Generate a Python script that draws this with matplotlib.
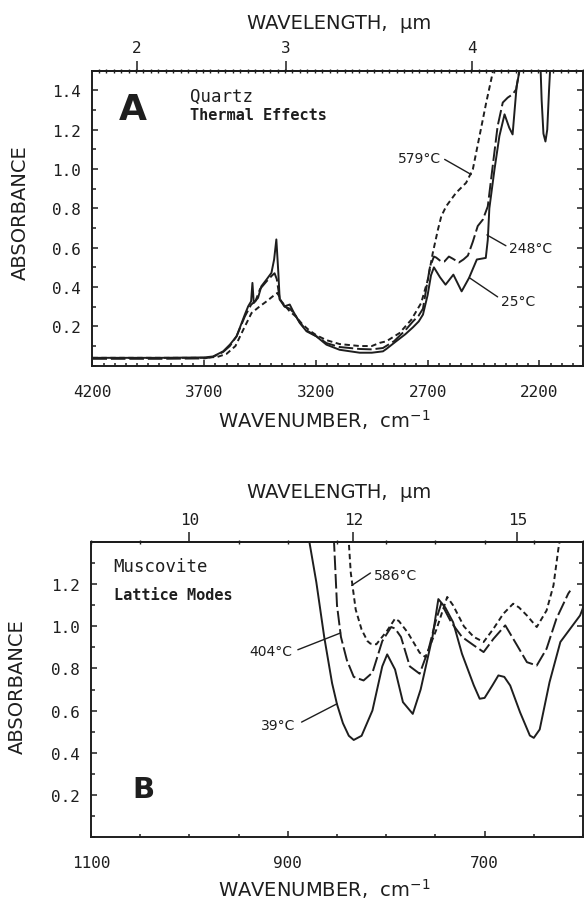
import numpy as np
import matplotlib
matplotlib.use("Agg")
import matplotlib.pyplot as plt
from matplotlib.ticker import MultipleLocator, FixedLocator

# ---------------- Quartz, thermal effects (wavenumber cm-1, absorbance) ----------------
q25_wn = [4200, 3900, 3700, 3660, 3615, 3585, 3555, 3518, 3503, 3490, 3484, 3478, 3459,
          3444, 3421, 3399, 3387, 3377, 3368, 3362, 3340, 3317, 3302, 3272, 3242, 3198,
          3153, 3094, 3004, 2950, 2900, 2885, 2840, 2800, 2766, 2740, 2721, 2700, 2685,
          2672, 2645, 2620, 2585, 2548, 2515, 2480, 2440, 2431, 2424, 2401, 2379, 2356,
          2335, 2320, 2302, 2289, 2280, 2200, 2196, 2190, 2182, 2173, 2165, 2157, 2150,
          2140, 2000]
q25_abs = [0.040, 0.040, 0.042, 0.047, 0.073, 0.107, 0.149, 0.260, 0.302, 0.327, 0.421, 0.319, 0.345,
           0.404, 0.438, 0.472, 0.540, 0.642, 0.470, 0.336, 0.302, 0.311, 0.277, 0.217, 0.175, 0.149,
           0.107, 0.081, 0.066, 0.066, 0.073, 0.085, 0.125, 0.160, 0.195, 0.225, 0.260, 0.360, 0.460,
           0.500, 0.450, 0.412, 0.463, 0.378, 0.446, 0.540, 0.548, 0.640, 0.800, 0.998, 1.168, 1.278,
           1.210, 1.176, 1.420, 1.500, 1.700, 1.700, 1.550, 1.350, 1.180, 1.140, 1.200, 1.400, 1.550,
           1.700, 1.700]

q248_wn = [4200, 3900, 3700, 3660, 3615, 3585, 3555, 3518, 3490, 3470, 3450, 3420, 3395,
           3385, 3375, 3362, 3340, 3317, 3300, 3272, 3242, 3198, 3153, 3094, 3004, 2950,
           2900, 2850, 2800, 2766, 2740, 2721, 2705, 2690, 2672, 2662, 2640, 2625, 2605,
           2589, 2560, 2540, 2520, 2498, 2476, 2453, 2431, 2409, 2387, 2364, 2342, 2320,
           2304, 2290, 2280, 2000]
q248_abs = [0.035, 0.035, 0.037, 0.045, 0.070, 0.100, 0.150, 0.250, 0.310, 0.330, 0.390, 0.430, 0.460,
            0.470, 0.440, 0.340, 0.300, 0.290, 0.270, 0.220, 0.180, 0.150, 0.115, 0.095, 0.085, 0.083,
            0.090, 0.125, 0.180, 0.225, 0.255, 0.290, 0.400, 0.500, 0.555, 0.550, 0.530, 0.530, 0.555,
            0.545, 0.525, 0.540, 0.560, 0.630, 0.710, 0.743, 0.810, 1.015, 1.218, 1.338, 1.363, 1.380,
            1.405, 1.500, 1.700, 1.700]

q579_wn = [4200, 3900, 3700, 3640, 3600, 3560, 3525, 3488, 3451, 3421, 3384, 3372, 3354,
           3320, 3290, 3260, 3230, 3198, 3153, 3094, 3004, 2950, 2915, 2885, 2826, 2773,
           2729, 2699, 2677, 2654, 2639, 2617, 2573, 2528, 2498, 2468, 2438, 2409, 2400,
           2000]
q579_abs = [0.040, 0.040, 0.040, 0.045, 0.060, 0.100, 0.183, 0.268, 0.302, 0.327, 0.361, 0.370, 0.327,
            0.280, 0.250, 0.210, 0.180, 0.155, 0.130, 0.110, 0.100, 0.100, 0.116, 0.124, 0.166, 0.234,
            0.319, 0.438, 0.574, 0.692, 0.760, 0.811, 0.879, 0.930, 0.998, 1.168, 1.338, 1.490, 1.700,
            1.700]

# ---------------- Muscovite, lattice modes ----------------
m39_wn = [890, 878, 871, 863, 855, 850, 844, 838, 833, 825, 814, 804, 799, 791, 783, 773,
          765, 753, 747, 740, 732, 723, 711, 705, 700, 692, 686, 680, 674, 664, 654, 650,
          644, 634, 623, 613, 603, 599]
m39_abs = [1.60, 1.40, 1.21, 0.95, 0.73, 0.63, 0.54, 0.48, 0.46, 0.48, 0.60, 0.81, 0.867, 0.795, 0.64, 0.584,
           0.70, 0.95, 1.13, 1.09, 1.02, 0.87, 0.72, 0.656, 0.66, 0.72, 0.767, 0.76, 0.719, 0.592, 0.481, 0.47,
           0.51, 0.735, 0.926, 0.989, 1.052, 1.10]

m404_wn = [856, 853, 850, 846, 840, 833, 823, 814, 804, 795, 791, 785, 776, 766, 757, 750,
           744, 734, 723, 711, 701, 691, 679, 667, 657, 647, 637, 627, 615, 613]
m404_abs = [1.60, 1.40, 1.10, 0.95, 0.84, 0.76, 0.743, 0.78, 0.93, 0.997, 0.99, 0.95, 0.81, 0.775, 0.89, 1.02,
            1.11, 1.02, 0.95, 0.91, 0.878, 0.941, 1.005, 0.91, 0.83, 0.814, 0.894, 1.037, 1.156, 1.17]

m586_wn = [840, 838, 836, 831, 825, 819, 816, 810, 799, 791, 787, 778, 766, 760, 749, 738,
           732, 721, 711, 701, 691, 681, 671, 665, 657, 647, 637, 630, 625, 622]
m586_abs = [1.60, 1.40, 1.255, 1.08, 0.985, 0.93, 0.918, 0.915, 0.98, 1.037, 1.025, 0.97, 0.875, 0.854, 0.985, 1.14,
            1.10, 1.00, 0.95, 0.926, 0.989, 1.06, 1.108, 1.09, 1.052, 0.997, 1.076, 1.195, 1.37, 1.45]

# Axis ticks
a_xticks = [4200, 3700, 3200, 2700, 2200]
a_yticks = [0.2, 0.4, 0.6, 0.8, 1.0, 1.2, 1.4]
a_top_ticks = [2.5, 3, 4]
a_top_labels = ["2", "3", "4"]
b_xticks = [1100, 900, 700]
b_yticks = [0.2, 0.4, 0.6, 0.8, 1.0, 1.2]
b_top_ticks = [10, 12, 15]
b_top_labels = ["10", "12", "15"]

INK = "#1e1e1e"
MONO = "DejaVu Sans Mono"
SANS = "DejaVu Sans"
LW = 1.4
SOLID = "-"
LONG = (0, (7.5, 2.0))
SHORT = (0, (2.8, 1.8))


def to_um(x):
    x = np.asarray(x, dtype=float)
    with np.errstate(divide="ignore", invalid="ignore"):
        return 1e4 / x


fig = plt.figure(figsize=(5.84, 9.04), dpi=100)
W, H = 584.0, 904.0


def add_axes_px(x0, x1, top, bottom):
    return fig.add_axes([x0 / W, 1 - bottom / H, (x1 - x0) / W, (bottom - top) / H])


def style_axes(ax, xlim, ylim, xticks, yticks, top_ticks, top_labels, top_minor_wn):
    ax.set_xlim(*xlim)
    ax.set_ylim(*ylim)
    for sp in ax.spines.values():
        sp.set_linewidth(1.4)
        sp.set_color(INK)
    ax.set_xticks(xticks, labels=[str(t) for t in xticks])
    ax.set_yticks(yticks, labels=[f"{t:.1f}" for t in yticks])
    ax.xaxis.set_minor_locator(MultipleLocator(50))
    ax.yaxis.set_minor_locator(MultipleLocator(0.1))
    ax.tick_params(axis="both", which="both", direction="in", colors=INK, width=1.1,
                   top=False, right=True, labelsize=11.5)
    ax.tick_params(axis="x", which="major", length=4.5, pad=13)
    ax.tick_params(axis="x", which="minor", length=2.5)
    ax.tick_params(axis="y", which="major", length=4.5, pad=8)
    ax.tick_params(axis="y", which="minor", length=3.0)
    for lab in ax.get_xticklabels() + ax.get_yticklabels():
        lab.set_fontfamily(MONO)

    sec = ax.secondary_xaxis("top", functions=(to_um, to_um))
    sec.set_xticks(top_ticks, labels=top_labels)
    sec.xaxis.set_minor_locator(FixedLocator(to_um(top_minor_wn)))
    sec.tick_params(axis="x", which="major", direction="out", length=7, width=1.1,
                    pad=4, colors=INK, labelsize=11.5)
    sec.tick_params(axis="x", which="minor", direction="inout", length=3, width=1.0, colors=INK)
    sec.spines["top"].set_linewidth(1.4)
    for lab in sec.get_xticklabels():
        lab.set_fontfamily(MONO)
    return sec


def leader(ax, start, end):
    ax.annotate("", xy=end, xytext=start,
                arrowprops=dict(arrowstyle="-", lw=1.0, color=INK, shrinkA=0, shrinkB=0))


# ======================= Panel A: Quartz =======================
axA = add_axes_px(92.4, 583.0, 71.7, 366.7)
style_axes(axA, (4200, 2005), (0, 1.5), a_xticks, a_yticks, a_top_ticks, a_top_labels,
           np.arange(2005, 4201, 100 / 3))

axA.plot(q25_wn, q25_abs, color=INK, lw=LW, ls=SOLID)
axA.plot(q248_wn, q248_abs, color=INK, lw=LW, ls=LONG)
axA.plot(q579_wn, q579_abs, color=INK, lw=LW, ls=SHORT)

axA.set_xlabel(r"WAVENUMBER,  cm$^{-1}$", fontsize=14, family=SANS, color=INK, va="baseline")
axA.xaxis.set_label_coords(0.472, -0.208)
axA.set_ylabel("ABSORBANCE", fontsize=14, family=SANS, color=INK, va="center")
axA.yaxis.set_label_coords(-0.1466, 0.521)
axA.text(0.503, 1.165, "WAVELENGTH,  \u03bcm", transform=axA.transAxes, fontsize=14,
         family=SANS, color=INK, ha="center", va="center")

axA.text(0.0834, 0.870, "A", transform=axA.transAxes, fontsize=26, fontweight="bold",
         family=SANS, color=INK, ha="center", va="center")
axA.text(0.199, 0.915, "Quartz", transform=axA.transAxes, fontsize=12.5,
         family=MONO, color=INK, ha="left", va="center")
axA.text(0.199, 0.853, "Thermal Effects", transform=axA.transAxes, fontsize=11,
         family=MONO, fontweight="bold", color=INK, ha="left", va="center")

axA.text(2639, 1.058, "579\u00b0C", fontsize=10, family=SANS, color=INK, ha="right", va="center")
leader(axA, (2624, 1.049), (2505, 0.972))
axA.text(2337, 0.599, "248\u00b0C", fontsize=10, family=SANS, color=INK, ha="left", va="center")
leader(axA, (2435, 0.665), (2350, 0.610))
axA.text(2371, 0.331, "25\u00b0C", fontsize=10, family=SANS, color=INK, ha="left", va="center")
leader(axA, (2513, 0.447), (2387, 0.350))

# ======================= Panel B: Muscovite =======================
axB = add_axes_px(91.0, 583.0, 543.3, 837.7)
style_axes(axB, (1100, 600), (0, 1.4), b_xticks, b_yticks, b_top_ticks, b_top_labels,
           np.arange(600, 1101, 50))

axB.plot(m39_wn, m39_abs, color=INK, lw=LW, ls=SOLID)
axB.plot(m404_wn, m404_abs, color=INK, lw=LW, ls=LONG)
axB.plot(m586_wn, m586_abs, color=INK, lw=LW, ls=SHORT)

axB.set_xlabel(r"WAVENUMBER,  cm$^{-1}$", fontsize=14, family=SANS, color=INK, va="baseline")
axB.xaxis.set_label_coords(0.474, -0.201)
axB.set_ylabel("ABSORBANCE", fontsize=14, family=SANS, color=INK, va="center")
axB.yaxis.set_label_coords(-0.149, 0.513)
axB.text(0.504, 1.171, "WAVELENGTH,  \u03bcm", transform=axB.transAxes, fontsize=14,
         family=SANS, color=INK, ha="center", va="center")

axB.text(0.106, 0.162, "B", transform=axB.transAxes, fontsize=21, fontweight="bold",
         family=SANS, color=INK, ha="center", va="center")
axB.text(0.046, 0.918, "Muscovite", transform=axB.transAxes, fontsize=12.5,
         family=MONO, color=INK, ha="left", va="center")
axB.text(0.046, 0.822, "Lattice Modes", transform=axB.transAxes, fontsize=11,
         family=MONO, fontweight="bold", color=INK, ha="left", va="center")

axB.text(812, 1.243, "586\u00b0C", fontsize=10, family=SANS, color=INK, ha="left", va="center")
leader(axB, (835, 1.195), (816, 1.254))
axB.text(895.3, 0.881, "404\u00b0C", fontsize=10, family=SANS, color=INK, ha="right", va="center")
leader(axB, (846.3, 0.969), (889.8, 0.889))
axB.text(891.9, 0.529, "39\u00b0C", fontsize=10, family=SANS, color=INK, ha="right", va="center")
leader(axB, (850, 0.632), (886, 0.545))

fig.savefig("out.png", dpi=100, facecolor="white")
